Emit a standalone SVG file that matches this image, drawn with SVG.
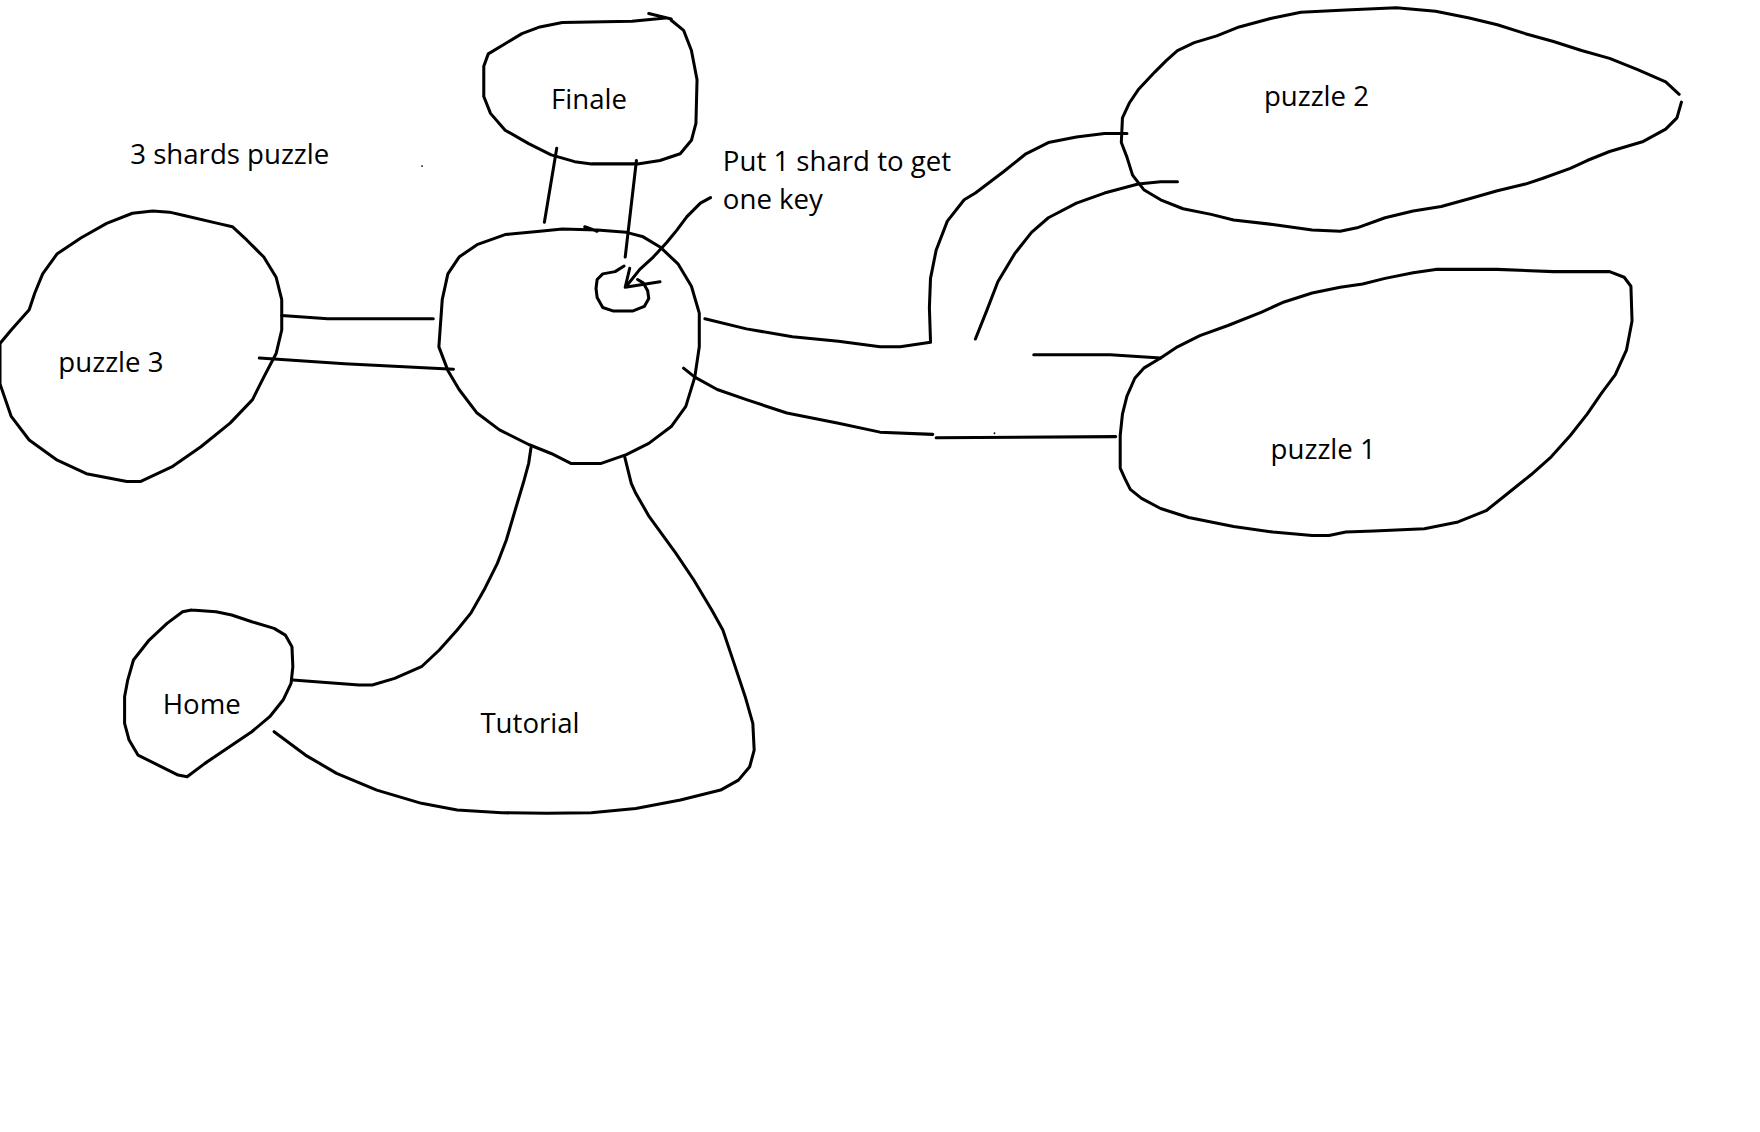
<svg xmlns="http://www.w3.org/2000/svg" width="1760" height="1132" viewBox="0 0 1760 1132">
<style>
.s{fill:none;stroke:#000;stroke-width:2.7;stroke-linejoin:round;stroke-linecap:round}
.t{font-family:"Open Sans","Liberation Sans",sans-serif;font-size:24.6px;fill:#000}
</style>
<rect width="1760" height="1132" fill="#fff"/>
<g transform="scale(1.12245)">
<g id="connectors">
<path class="s" d="M496,132 L485,198"/>
<path class="s" d="M567,143 L557,229"/>
<path class="s" d="M251,281 L292,284 L386,284"/>
<path class="s" d="M231,319 L307,324 L404,329"/>
<path class="s" d="M628,284 L665,293 L706,300 L747,304 L784,309 L802,309 L829,305"/>
<path class="s" d="M829,304 L828,274 L829,248 L834,223 L844,197 L859,178 L869,172 L894,153 L914,137 L934,127 L959,122 L984,119 L1004,119"/>
<path class="s" d="M869,302 L879,277 L889,251 L904,226 L919,207 L934,194 L959,181 L984,172 L1014,164 L1034,162 L1049,162"/>
<path class="s" d="M609,328 L619,336 L639,347 L665,356 L701,368 L747,377 L784,385 L831,387"/>
<path class="s" d="M834,390 L994,389"/>
<path class="s" d="M921,316 L989,316 L1034,319"/>
<path class="s" d="M260.9,605.9 L319.8,610.3 L331.7,610.3 L351.6,604.4 L375.5,594 L391.4,579.1 L407.3,561.3 L419.3,546.5 L431.2,525.7 L443.1,501.9 L451.1,481.1 L459,454.4 L467,427.6 L471,412.8 L473,399.4"/>
<path class="s" d="M556.5,406.9 L562.4,430.6 L566.4,439.5 L578.4,460.3 L602.2,493 L618.1,516.7 L634.1,543.5 L644,561.3 L654,591 L663.9,620.7 L670.7,644.5 L671.9,668.2 L667.9,683.1 L657.9,695 L642,703.9 L606.2,712.8 L566.4,720.2 L526.7,724.1 L486.9,724.6 L447.1,724.1 L407.3,721.7 L375.5,715.7 L335.7,703.9 L299.9,689 L272.1,672.7 L244.2,651.9"/>
<path class="s" d="M633,176 L624,181 L612,193 L603,205 L594,216 L582,229 L570,240 L558,255"/>
<path class="s" d="M561,239 L557,256 L588,251"/>
<circle cx="376" cy="148" r="0.8" fill="#000"/>
<circle cx="886" cy="386" r="0.8" fill="#000"/>
</g>
<g id="finale">
<path class="s" d="M578,12 L598,17 M593,16 L563,19 L501,20 L481,24 L465,30 L450,39 L435,48 L431,59 L431,86 L437,101 L450,116 L471,128 L491,138 L512,144 L527,146 L568,146 L588,143 L606,137 L616,125 L620,110 L621,71 L616,45 L609,27 L598,18"/>
<text class="t" x="491" y="97">Finale</text>
</g>
<g id="hub">
<path class="s" d="M521,202 L532,206 M558,207 L532,205 L501,204 L481,206 L450,209 L425,218 L409,229 L399,244 L394,267 L391,309 L399,330 L409,347 L425,368 L445,383 L471,396 L491,404 L509,413 L535,413 L558,405 L578,395 L598,380 L611,362 L619,336 L623,309 L623,279 L616,255 L604,235 L588,220 L573,211 L558,207"/>
</g>
<g id="keyslot">
<path class="s" d="M556,237 L548,242 L537,244 L532,249 L531,257 L532,265 L537,274 L546,277 L564,277 L574,273 L578,266 L577,259 L573,252 L568,249"/>
</g>
<g id="puzzle3">
<path class="s" d="M136,188 L118,190 L95,199 L72,212 L51,226 L38,244 L31,261 L26,276 L10,294 L0,306 L0,342 L10,371 L26,392 L51,410 L77,422 L113,429 L125,429 L153,416 L179,398 L205,377 L225,356 L235,336 L246,315 L251,294 L251,267 L246,247 L235,229 L220,214 L207,202 L194,199 L164,192 L151,189 Z"/>
<text class="t" x="52" y="331">puzzle 3</text>
</g>
<g id="puzzle2">
<path class="s" d="M1049,45 L1064,38 L1084,32 L1104,24 L1134,16 L1159,11 L1199,9 L1244,7 L1279,10 L1309,16 L1334,22 L1359,30 L1384,37 L1409,45 L1434,52 L1459,62 L1484,73 L1496,84 M1498,91 L1494,105 L1484,115 L1464,126 L1434,135 L1414,143 L1399,150 L1374,159 L1359,164 L1334,170 L1309,177 L1284,184 L1259,188 L1234,194 L1209,203 L1194,206 L1169,205 L1134,200 L1099,196 L1079,191 L1054,186 L1034,178 L1019,169 L1009,156 L1004,140 L999,127 L1000,105 L1006,92 L1014,80 L1029,64 L1039,54 L1049,45"/>
<text class="t" x="1126" y="94">puzzle 2</text>
</g>
<g id="puzzle1">
<path class="s" d="M1034,319 L1049,309 L1069,299 L1094,290 L1124,278 L1144,269 L1169,261 L1194,256 L1214,253 L1234,248 L1259,243 L1279,240 L1334,240 L1384,242 L1434,242 L1447,247 L1453,255 L1454,286 L1449,312 L1439,334 L1427,350 L1414,369 L1399,388 L1382,407 L1364,423 L1344,439 L1324,455 L1299,465 L1269,471 L1224,473 L1199,474 L1184,477 L1169,477 L1134,474 L1099,469 L1059,461 L1034,453 L1017,444 L1007,436 L1002,426 L998,417 L998,388 L1000,369 L1004,353 L1011,337 L1019,328 Z"/>
<text class="t" x="1132" y="409">puzzle 1</text>
</g>
<g id="home">
<path class="s" d="M170.6,543.5 L162.7,545 L148.8,555.4 L132.9,570.2 L118.9,588 L113.8,605.9 L111,620.7 L111,644.5 L115,659.3 L122.9,672.7 L140.8,681.6 L158.7,690.5 L166.7,692 L182.6,680.1 L204.5,665.3 L224.3,651.9 L240.3,638.5 L252.2,623.7 L259.3,608.8 L260.9,594 L260.1,576.1 L254.2,565.8 L244.2,559.8 L224.3,553.9 L206.4,547.9 L192.5,545 L170.6,543.5"/>
<text class="t" x="145" y="636">Home</text>
</g>
<g id="tutorial">
<text class="t" x="428" y="653">Tutorial</text>
</g>
<g id="labels">
<text class="t" x="116" y="146">3 shards puzzle</text>
<text class="t" x="644" y="152">Put 1 shard to get</text>
<text class="t" x="644" y="186">one key</text>
</g>
</g>
</svg>
